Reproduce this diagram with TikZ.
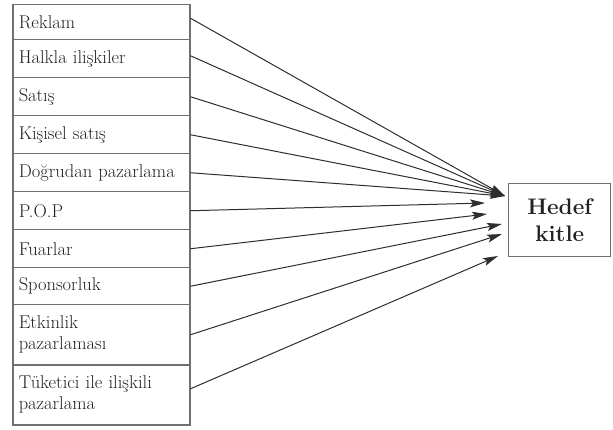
\documentclass[tikz,border=0pt]{standalone}
\usetikzlibrary{arrows.meta}
\definecolor{boxgray}{HTML}{707070}
\definecolor{linegray}{HTML}{2E2E2E}
\definecolor{txt}{HTML}{222222}
\begin{document}
\begin{tikzpicture}[x=1pt,y=-1pt,
  rowbox/.style={draw=boxgray, line width=1.5pt, minimum width=177pt, text width=165pt,
    inner xsep=6pt, align=left, anchor=north west, text=txt,
    font=\fontsize{18.5}{21}\selectfont},
  target/.style={draw=boxgray, line width=1.4pt, minimum width=102pt, minimum height=73pt,
    anchor=north west, align=center, text=txt, font=\fontsize{22.5}{27}\selectfont\bfseries},
  conn/.style={draw=linegray, line width=1pt, -{Stealth[length=15pt,width=8pt,inset=3pt]}}]
\useasboundingbox (0,0) rectangle (613,430);
\node[rowbox, minimum height=35pt] (r1) at (12,4) {Reklam};
\node[rowbox, minimum height=38pt] (r2) at (12,39) {Halkla ilişkiler};
\node[rowbox, minimum height=38pt] (r3) at (12,77) {Satış};
\node[rowbox, minimum height=38pt] (r4) at (12,115) {Kişisel satış};
\node[rowbox, minimum height=38pt] (r5) at (12,153) {Doğrudan pazarlama};
\node[rowbox, minimum height=38pt] (r6) at (12,191) {P.O.P};
\node[rowbox, minimum height=38pt] (r7) at (12,229) {Fuarlar};
\node[rowbox, minimum height=37pt] (r8) at (12,267) {Sponsorluk};
\node[rowbox, minimum height=60pt] (r9) at (12,304) {Etkinlik\\pazarlaması};
\node[rowbox, minimum height=60pt] (r10) at (12,364) {Tüketici ile ilişkili\\pazarlama};
\node[target] (h) at (508,183) {Hedef\\kitle};
\coordinate (ta) at (505,196);
\coordinate (tb) at (485,203);
\coordinate (tc) at (487,214);
\coordinate (td) at (502,224);
\coordinate (te) at (502,234);
\coordinate (tf) at (498,256);
\draw[conn] ([yshift=4pt]r1.east) -- (ta);
\draw[conn] ([yshift=3pt]r2.east) -- (ta);
\draw[conn] (r3.east) -- (ta);
\draw[conn] (r4.east) -- (ta);
\draw[conn] (r5.east) -- (ta);
\draw[conn] (r6.east) -- (tb);
\draw[conn] (r7.east) -- (tc);
\draw[conn] (r8.east) -- (td);
\draw[conn] (r9.east) -- (te);
\draw[conn] ([yshift=6pt]r10.east) -- (tf);
\end{tikzpicture}
\end{document}
